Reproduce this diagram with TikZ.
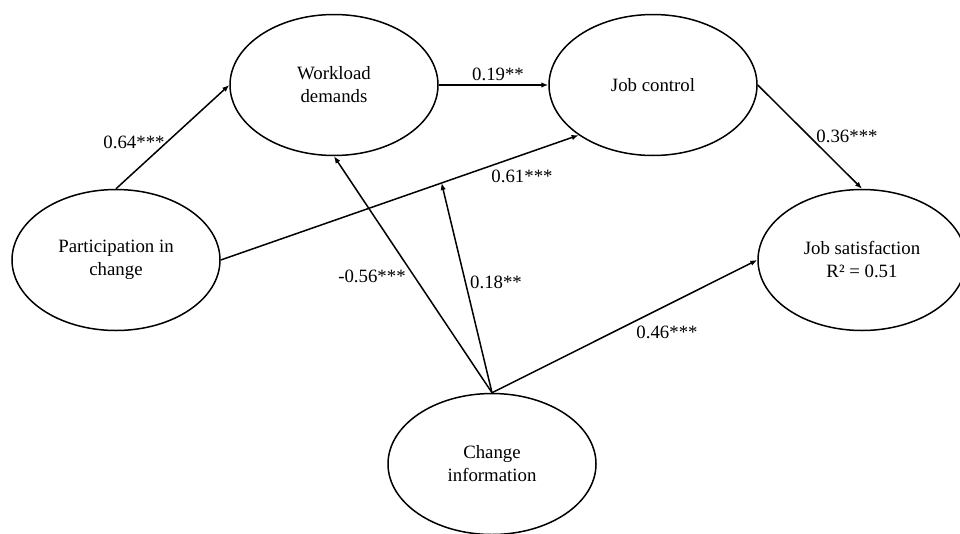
\documentclass[tikz,border=0pt]{standalone}
\usepackage{fontspec}
\setmainfont{Liberation Serif}
\usetikzlibrary{shapes.geometric,arrows.meta}
\begin{document}
\begin{tikzpicture}[x=1pt,y=-1pt,
  var/.style={ellipse,draw,line width=1.5pt,minimum width=208pt,minimum height=141pt,inner sep=0pt,align=center,font=\fontsize{18.8}{23}\selectfont},
  path/.style={line width=1.5pt,-{Latex[length=7pt,width=5.5pt]}},
  lab/.style={font=\fontsize{18.8}{23}\selectfont,inner sep=0pt}]
\useasboundingbox (0,0) rectangle (960,533);
\node[var] (wd) at (334,85) {Workload\\demands};
\node[var] (jc) at (653,85) {Job control};
\node[var] (pa) at (116,260) {Participation in\\change};
\node[var] (js) at (862,260) {Job satisfaction\\R² = 0.51};
\node[var] (ci) at (492,464) {Change\\information};
\draw[path] (pa.north) -- (wd.west);
\draw[path] (wd.east) -- (jc.west);
\draw[path] (pa.east) -- (jc.214) coordinate[pos=0.617] (mod);
\draw[path] (jc.east) -- (js.north);
\draw[path] (ci.north) -- (wd.south);
\draw[path] (ci.north) -- (mod);
\draw[path] (ci.north) -- (js.west);
\node[lab] (l1) at (134,142) {0.64***};
\node[lab] (l2) at (498,74) {0.19**};
\node[lab] (l3) at (522,176) {0.61***};
\node[lab] (l4) at (847,136) {0.36***};
\node[lab] (l5) at (372,276) {-0.56***};
\node[lab] (l6) at (496,282) {0.18**};
\node[lab] (l7) at (667,332) {0.46***};
\end{tikzpicture}
\end{document}
